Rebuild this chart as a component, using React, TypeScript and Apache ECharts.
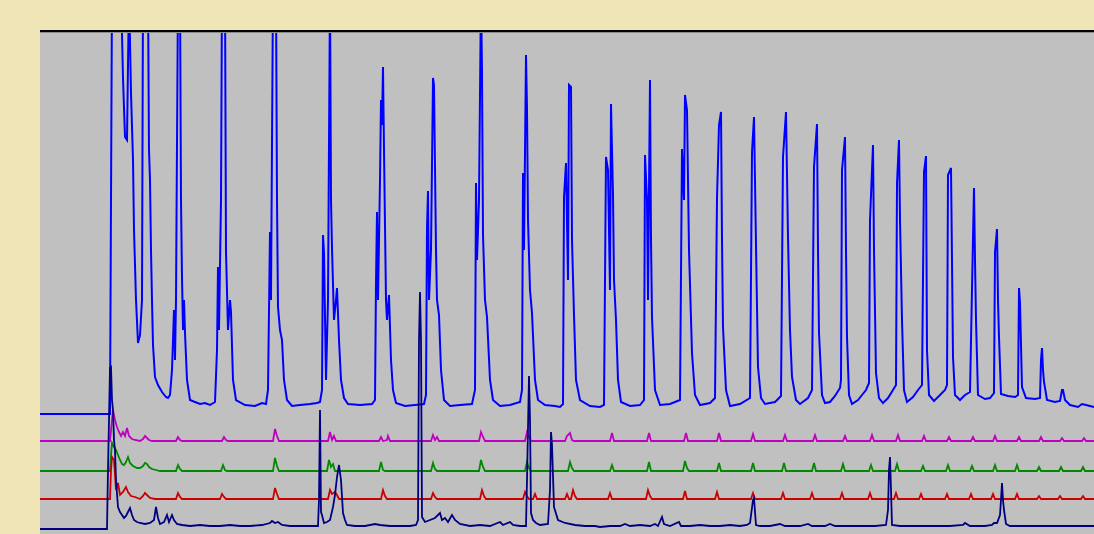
import React, { useEffect, useRef } from "react";
import * as echarts from "echarts";

// Detector traces: [retention time, signal]
const blueTrace: number[][] = [
  [0,120],[70,120],[72,544],[81,544],[83,456],[85,397],[87,394],[89,544],[91,441],[93,374],[94,304],[96,234],[98,191],[100,199],[102,234],[103,544],[108,544],[109,384],[110,354],[111,284],[112,234],[113,189],[115,157],[118,149],[122,142],[126,137],[128,136],[130,139],[132,164],[134,224],[135,174],[136,234],[138,544],[140,544],[141,334],[142,257],[143,204],[144,234],[145,201],[147,154],[150,134],[155,132],[160,130],[165,131],[170,129],[175,132],[177,184],[178,267],[179,204],[181,334],[182,544],[185,544],[186,282],[188,204],[190,234],[191,222],[193,154],[196,134],[205,129],[215,128],[222,131],[226,130],[228,144],[230,302],[231,234],[233,544],[236,544],[237,334],[238,227],[240,204],[242,194],[244,154],[247,134],[252,128],[260,129],[270,130],[277,131],[280,132],[282,144],[283,299],[284,281],[286,154],[288,234],[290,544],[291,334],[292,286],[294,214],[296,234],[297,246],[299,194],[301,154],[304,136],[308,130],[320,129],[332,130],[335,134],[336,251],[337,322],[338,234],[340,354],[341,434],[342,409],[343,467],[344,384],[346,234],[347,214],[349,239],[351,174],[353,144],[356,131],[365,128],[375,129],[384,130],[386,139],[387,306],[388,343],[389,234],[391,284],[393,456],[394,449],[396,284],[397,234],[399,219],[401,164],[404,134],[410,128],[420,129],[432,130],[435,144],[436,351],[437,274],[439,334],[441,544],[442,462],[443,299],[445,234],[447,217],[450,154],[453,134],[460,128],[470,129],[480,132],[482,144],[483,361],[484,284],[486,479],[487,425],[488,314],[490,244],[492,221],[495,154],[498,134],[505,129],[515,128],[520,127],[523,130],[524,337],[526,371],[528,254],[529,449],[531,447],[532,294],[534,219],[536,154],[540,134],[550,128],[560,127],[564,129],[566,377],[568,364],[570,244],[571,430],[573,339],[574,254],[576,214],[578,154],[581,132],[590,128],[600,129],[604,134],[605,379],[607,334],[608,234],[610,454],[611,294],[612,217],[615,144],[620,129],[630,130],[640,134],[642,385],[644,334],[645,439],[647,424],[649,284],[652,181],[655,139],[660,129],[670,131],[675,136],[677,336],[679,409],[681,422],[682,294],[683,207],[686,144],[690,128],[700,130],[710,136],[712,382],[714,417],[716,289],[718,167],[721,136],[725,130],[735,132],[741,138],[743,377],[746,422],[748,297],[750,204],[752,157],[756,134],[760,130],[768,136],[772,144],[774,367],[777,410],[778,284],[779,201],[782,139],[785,131],[790,132],[795,138],[800,146],[801,154],[802,364],[805,397],[806,284],[807,197],[809,139],[812,130],[818,134],[822,139],[826,144],[829,151],[830,314],[833,389],[834,284],[836,161],[839,136],[843,131],[848,136],[853,144],[856,149],[857,351],[859,394],[860,314],[862,214],[864,144],[867,132],[873,137],[878,144],[882,149],[884,362],[886,378],[887,184],[889,139],[894,133],[900,139],[905,144],[907,149],[908,359],[911,366],[912,274],[913,177],[915,139],[920,134],[925,139],[930,142],[933,296],[934,346],[935,274],[936,214],[938,139],[945,135],[950,136],[954,141],[955,282],[957,305],[958,234],[959,197],[961,140],[968,138],[975,137],[978,139],[979,246],[980,231],[982,147],[986,136],[995,135],[1000,136],[1001,174],[1002,186],[1003,164],[1004,152],[1007,134],[1015,132],[1020,133],[1022,144],[1023,144],[1025,134],[1030,129],[1038,127],[1042,130],[1046,129],[1054,127]
];

const magentaTrace: number[][] = [
  [0,93],[70,93],[72,114],[73,124],[75,114],[77,107],[79,102],[81,98],[83,102],[85,98],[87,106],[89,98],[92,95],[95,94],[100,93],[103,95],[105,98],[107,96],[109,94],[112,93],[136,93],[138,97],[140,94],[142,93],[182,93],[184,97],[186,94],[188,93],[233,93],[235,105],[237,98],[239,93],[288,93],[290,102],[292,94],[294,98],[296,93],[339,93],[341,97],[343,93],[347,94],[348,98],[350,93],[391,93],[393,99],[395,94],[397,97],[399,93],[439,93],[441,102],[443,97],[445,93],[485,93],[487,102],[489,97],[491,93],[525,93],[527,98],[530,101],[532,94],[534,93],[570,93],[572,101],[574,93],[607,93],[609,101],[611,93],[644,93],[646,101],[648,93],[677,93],[679,101],[681,93],[711,93],[713,100],[715,93],[743,93],[745,99],[747,93],[773,93],[775,99],[777,93],[803,93],[805,98],[807,93],[830,93],[832,99],[834,93],[856,93],[858,99],[860,93],[882,93],[884,98],[886,93],[907,93],[909,97],[911,93],[931,93],[933,97],[935,93],[953,93],[955,98],[957,93],[977,93],[979,97],[981,93],[999,93],[1001,97],[1003,93],[1020,93],[1022,96],[1024,93],[1042,93],[1044,96],[1046,93],[1054,93]
];

const greenTrace: number[][] = [
  [0,63],[70,63],[71,79],[72,91],[74,87],[76,84],[78,79],[80,74],[82,70],[84,69],[86,72],[88,77],[90,71],[93,68],[97,66],[100,66],[103,68],[105,71],[107,70],[109,67],[112,65],[116,64],[120,63],[136,63],[138,69],[140,65],[142,63],[181,63],[183,69],[185,64],[187,63],[233,63],[235,76],[237,68],[239,63],[287,63],[289,74],[291,67],[293,70],[295,63],[339,63],[341,72],[343,64],[345,63],[391,63],[393,71],[395,65],[397,63],[439,63],[441,74],[443,67],[445,63],[485,63],[487,72],[489,66],[491,63],[528,63],[530,72],[532,66],[534,63],[570,63],[572,69],[574,63],[607,63],[609,72],[611,63],[643,63],[645,73],[647,66],[649,63],[677,63],[679,71],[681,63],[711,63],[713,71],[715,63],[742,63],[744,71],[746,63],[772,63],[774,71],[776,63],[801,63],[803,70],[805,63],[829,63],[831,69],[833,63],[855,63],[857,70],[859,63],[881,63],[883,68],[885,63],[906,63],[908,69],[910,63],[930,63],[932,68],[934,63],[953,63],[955,69],[957,63],[975,63],[977,69],[979,63],[997,63],[999,67],[1001,63],[1019,63],[1021,67],[1023,63],[1041,63],[1043,67],[1045,63],[1054,63]
];

const redTrace: number[][] = [
  [0,35],[70,35],[71,64],[72,77],[74,74],[76,44],[78,51],[80,39],[83,42],[86,47],[88,42],[91,38],[95,37],[100,35],[103,38],[105,41],[107,39],[110,36],[115,35],[136,35],[138,41],[140,37],[142,35],[180,35],[182,40],[184,37],[186,35],[233,35],[235,46],[237,40],[239,35],[288,35],[290,44],[292,40],[295,42],[297,39],[299,35],[341,35],[343,44],[345,38],[347,35],[391,35],[393,41],[395,37],[397,35],[440,35],[442,44],[444,38],[446,35],[483,35],[485,42],[487,38],[489,35],[493,35],[495,40],[497,35],[525,35],[527,40],[529,35],[531,35],[533,44],[535,38],[537,35],[568,35],[570,41],[572,35],[606,35],[608,44],[610,38],[612,35],[643,35],[645,43],[647,35],[675,35],[677,42],[679,35],[711,35],[713,41],[715,35],[741,35],[743,41],[745,35],[770,35],[772,41],[774,35],[800,35],[802,41],[804,35],[828,35],[830,41],[832,35],[854,35],[856,41],[858,35],[879,35],[881,40],[883,35],[905,35],[907,40],[909,35],[929,35],[931,40],[933,35],[951,35],[953,40],[955,35],[975,35],[977,40],[979,35],[997,35],[999,38],[1001,35],[1018,35],[1020,38],[1022,35],[1041,35],[1043,38],[1045,35],[1054,35]
];

const navyTrace: number[][] = [
  [0,5],[67,5],[68,64],[69,114],[70,166],[71,167],[72,134],[73,124],[74,94],[75,84],[76,54],[78,27],[80,22],[82,19],[84,16],[86,18],[88,22],[90,26],[92,19],[94,14],[97,12],[100,11],[105,10],[110,11],[114,14],[116,27],[118,16],[120,10],[124,12],[127,19],[129,12],[132,19],[134,14],[137,10],[142,9],[150,8],[160,9],[170,8],[180,8],[190,9],[200,8],[210,8],[222,9],[230,11],[232,13],[235,11],[238,12],[242,9],[250,8],[260,8],[270,8],[278,8],[279,34],[280,124],[281,22],[282,19],[284,11],[287,12],[290,14],[293,27],[295,39],[297,57],[299,69],[301,54],[303,21],[305,14],[307,9],[315,8],[325,8],[335,10],[340,9],[350,8],[360,8],[370,8],[376,9],[378,14],[379,194],[380,242],[381,194],[382,17],[385,12],[390,14],[395,16],[400,21],[402,14],[405,16],[408,12],[412,19],[415,14],[420,10],[430,8],[440,9],[450,8],[460,12],[463,9],[470,12],[473,9],[480,8],[486,8],[487,54],[489,158],[490,114],[491,21],[493,14],[496,11],[500,9],[508,10],[510,44],[511,102],[512,89],[514,27],[518,14],[525,11],[535,9],[545,8],[555,8],[560,7],[570,8],[580,8],[585,10],[590,8],[600,9],[610,8],[615,10],[618,8],[622,17],[624,10],[630,8],[639,12],[641,8],[650,8],[660,9],[670,8],[680,8],[690,9],[700,8],[707,9],[710,11],[713,34],[714,36],[715,22],[716,9],[720,8],[730,8],[740,10],[745,8],[760,8],[768,10],[772,8],[785,8],[790,10],[795,8],[805,8],[820,8],[835,8],[846,9],[848,24],[849,64],[850,77],[851,44],[852,9],[860,8],[880,8],[895,8],[910,8],[923,9],[925,11],[930,8],[945,8],[952,9],[954,11],[957,11],[960,19],[961,34],[962,51],[963,34],[964,24],[966,10],[970,8],[980,8],[995,8],[1010,8],[1025,8],[1040,8],[1054,8]
];

const timeMin = 0;
const timeMax = 1054;
const signalMin = 0;
const signalMax = 503;

const traces = [
  { name: "blue", data: blueTrace, color: "#0000ff", width: 2 },
  { name: "magenta", data: magentaTrace, color: "#c000c0", width: 1.8 },
  { name: "green", data: greenTrace, color: "#008a00", width: 1.8 },
  { name: "red", data: redTrace, color: "#cc0000", width: 1.8 },
  { name: "navy", data: navyTrace, color: "#000080", width: 1.8 },
];

export default function App() {
  const ref = useRef<HTMLDivElement>(null);

  useEffect(() => {
    document.body.style.margin = "0";
    document.body.style.background = "#efe5b6";
    if (!ref.current) return;
    const chart = echarts.init(ref.current, undefined, { renderer: "svg" });
    chart.setOption({
      animation: false,
      backgroundColor: "#efe5b6",
      grid: {
        left: 40,
        right: 0,
        top: 31,
        bottom: 0,
        show: true,
        backgroundColor: "#c0c0c0",
        borderWidth: 0,
      },
      xAxis: {
        type: "value",
        min: timeMin,
        max: timeMax,
        show: false,
      },
      yAxis: {
        type: "value",
        min: signalMin,
        max: signalMax,
        show: false,
      },
      graphic: [
        {
          type: "rect",
          shape: { x: 40, y: 30, width: 1054, height: 2 },
          style: { fill: "#000000" },
          z: 100,
        },
        {
          type: "rect",
          shape: { x: 40, y: 32, width: 1054, height: 1 },
          style: { fill: "#8c8c8c" },
          z: 100,
        },
      ],
      series: traces.map((t) => ({
        name: t.name,
        type: "line",
        data: t.data,
        showSymbol: false,
        symbol: "none",
        clip: true,
        lineStyle: { color: t.color, width: t.width, join: "miter" },
        emphasis: { disabled: true },
      })),
    });
    return () => chart.dispose();
  }, []);

  return (
    <div
      ref={ref}
      style={{ position: "fixed", left: 0, top: 0, width: 1094, height: 534 }}
    />
  );
}
